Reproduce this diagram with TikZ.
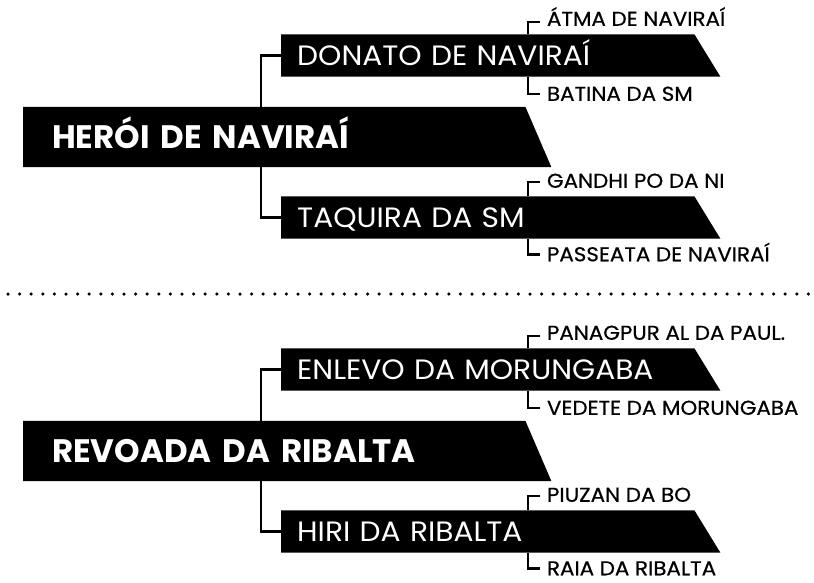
\documentclass[tikz,border=0pt]{standalone}
\usepackage{fontspec}
\setmainfont{Poppins}
\newfontfamily\subfont[FakeStretch=1.06]{Poppins}
\newfontfamily\leaffont[FakeStretch=1.07,FakeBold=0.6]{Poppins}
\usetikzlibrary{positioning}
\pgfdeclarelayer{bg}
\pgfsetlayers{bg,main}
\tikzstyle{link} = [line width=2.7pt]
\tikzset{
  headbox/.style={anchor=west, inner xsep=29pt, inner ysep=0pt, minimum height=60pt,
    text width=444pt, align=left, text height=23pt, text depth=0pt, text=white,
    font=\fontsize{32.5}{33}\selectfont\bfseries},
  subbox/.style={anchor=west, inner xsep=16pt, inner ysep=0pt, minimum height=42pt,
    text width=381pt, align=left, text height=19.5pt, text depth=0pt, text=white,
    font=\subfont\fontsize{28}{28}\selectfont},
  leaf/.style={anchor=west, inner sep=0pt, outer xsep=7pt, text height=13.5pt,
    text depth=0pt, font=\leaffont\fontsize{20}{20}\selectfont}
}
% slanted black banner behind a node
\newcommand{\bannerfill}[1]{\fill (#1.north west) -- (#1.north east) -- ([xshift=26pt]#1.south east) -- (#1.south west) -- cycle;}
\begin{document}
\begin{tikzpicture}[x=1pt,y=-1pt]
  \useasboundingbox (0,0) rectangle (814,582);
  \coordinate (tr) at (261,0);
  \coordinate (br) at (528,0);
  % first tree
  \node[headbox] (heroi) at (23,137) {HERÓI DE NAVIRAÍ};
  \node[subbox] (donato) at (281,55.5) {DONATO DE NAVIRAÍ};
  \node[subbox] (taquira) at (281,217.5) {TAQUIRA DA SM};
  \node[leaf] (atma) at (540,19) {ÁTMA DE NAVIRAÍ};
  \node[leaf] (batina) at (540,94) {BATINA DA SM};
  \node[leaf] (gandhi) at (540,181) {GANDHI PO DA NI};
  \node[leaf] (passeata) at (540,254.5) {PASSEATA DE NAVIRAÍ};
  \begin{pgfonlayer}{bg}
    \bannerfill{heroi} \bannerfill{donato} \bannerfill{taquira}
  \end{pgfonlayer}
  \draw[link] (heroi.north -| tr) |- (donato.west);
  \draw[link] (heroi.south -| tr) |- (taquira.west);
  \draw[link] (donato.north -| br) |- ([yshift=-3pt]atma.west);
  \draw[link] (donato.south -| br) |- (batina.west);
  \draw[link] (taquira.north -| br) |- ([yshift=-1pt]gandhi.west);
  \draw[link] (taquira.south -| br) |- (passeata.west);
  % separator
  \draw[line width=3.5pt, line cap=round, dash pattern=on 0pt off 11.6pt] (8,294) -- (809,294);
  % second tree
  \begin{scope}[yshift=-314pt]
    \node[headbox] (revoada) at (23,137) {REVOADA DA RIBALTA};
    \node[subbox] (enlevo) at (281,55.5) {ENLEVO DA MORUNGABA};
    \node[subbox] (hiri) at (281,217.5) {HIRI DA RIBALTA};
    \node[leaf] (panagpur) at (540,19) {PANAGPUR AL DA PAUL.};
    \node[leaf] (vedete) at (540,94) {VEDETE DA MORUNGABA};
    \node[leaf] (piuzan) at (540,181) {PIUZAN DA BO};
    \node[leaf] (raia) at (540,254.5) {RAIA DA RIBALTA};
    \begin{pgfonlayer}{bg}
      \bannerfill{revoada} \bannerfill{enlevo} \bannerfill{hiri}
    \end{pgfonlayer}
    \draw[link] (revoada.north -| tr) |- (enlevo.west);
    \draw[link] (revoada.south -| tr) |- (hiri.west);
    \draw[link] (enlevo.north -| br) |- ([yshift=-3pt]panagpur.west);
    \draw[link] (enlevo.south -| br) |- (vedete.west);
    \draw[link] (hiri.north -| br) |- ([yshift=-1pt]piuzan.west);
    \draw[link] (hiri.south -| br) |- (raia.west);
  \end{scope}
\end{tikzpicture}
\end{document}
